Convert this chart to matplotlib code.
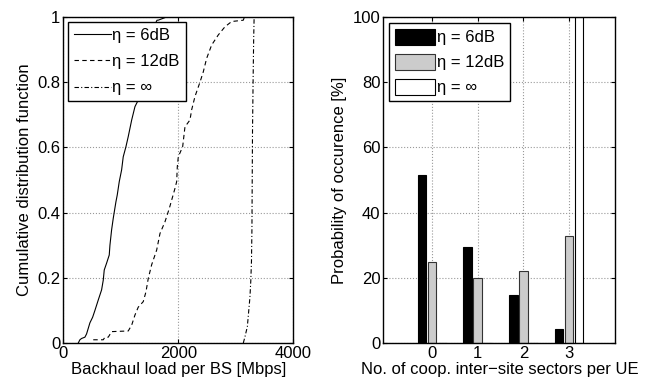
import numpy as np
import matplotlib
matplotlib.use('Agg')
import matplotlib.pyplot as plt

plt.rcParams['font.family'] = ['Liberation Sans', 'DejaVu Sans']
plt.rcParams['font.size'] = 12

# CDF curves (Mbps, probability)
load_6db = [261, 290, 319, 377, 406, 435, 464, 511, 551, 609, 667, 696, 713, 754,
            800, 812, 841, 870, 916, 939, 974, 1015, 1043, 1090, 1130, 1190, 1247,
            1304, 1350, 1450, 1550, 1630, 1650, 1800]
cdf_6db = [0.0, 0.01, 0.014, 0.018, 0.028, 0.045, 0.062, 0.079, 0.10, 0.132, 0.163,
           0.193, 0.224, 0.245, 0.27, 0.30, 0.347, 0.383, 0.433, 0.454, 0.495, 0.531,
           0.571, 0.602, 0.633, 0.684, 0.725, 0.745, 0.82, 0.90, 0.96, 0.99, 0.99, 1.0]

load_12db = [522, 696, 725, 783, 841, 1130, 1190, 1247, 1304, 1391, 1438, 1478, 1537,
             1624, 1682, 1769, 1844, 1902, 1942, 1972, 1983, 2000, 2076, 2116, 2203,
             2232, 2290, 2377, 2435, 2493, 2580, 2696, 2812, 2928, 3130, 3150]
cdf_12db = [0.01, 0.01, 0.018, 0.018, 0.035, 0.037, 0.055, 0.086, 0.11, 0.127, 0.157,
            0.198, 0.24, 0.285, 0.336, 0.372, 0.413, 0.449, 0.474, 0.495, 0.541, 0.571,
            0.602, 0.663, 0.684, 0.715, 0.756, 0.80, 0.832, 0.873, 0.914, 0.945, 0.97,
            0.986, 0.99, 1.0]

load_inf = [3130, 3160, 3200, 3220, 3245, 3260, 3272, 3280, 3285, 3290, 3300, 3310, 3318]
cdf_inf = [0.0, 0.02, 0.05, 0.09, 0.14, 0.19, 0.25, 0.35, 0.5, 0.65, 0.8, 0.93, 1.0]

# bar chart: probability [%] per number of cooperating inter-site sectors
sectors = [0, 1, 2, 3]
prob_6db = [51.4, 29.4, 14.7, 4.3]
prob_12db = [24.9, 20.0, 22.0, 32.8]
prob_inf = [0, 0, 0, 100]

labels = ['\u03b7 = 6dB', '\u03b7 = 12dB', '\u03b7 = \u221e']

fig = plt.figure(figsize=(6.69, 3.85), dpi=100)
ax1 = fig.add_axes([0.0945, 0.109, 0.344, 0.847])
ax2 = fig.add_axes([0.573, 0.109, 0.347, 0.847])

# left: CDF of backhaul load
ax1.plot(load_6db, cdf_6db, 'k-', lw=0.8, label=labels[0])
ax1.plot(load_12db, cdf_12db, 'k--', lw=0.8, dashes=(4, 3), label=labels[1])
ax1.plot(load_inf, cdf_inf, 'k-.', lw=0.8, dashes=(4, 2, 1, 2), label=labels[2])
ax1.set_xlim(0, 4000)
ax1.set_ylim(0, 1)
ax1.set_xticks([0, 2000, 4000])
ax1.set_yticks([0, 0.2, 0.4, 0.6, 0.8, 1])
ax1.set_yticklabels(['0', '0.2', '0.4', '0.6', '0.8', '1'])
ax1.set_xlabel('Backhaul load per BS [Mbps]', labelpad=1)
ax1.set_ylabel('Cumulative distribution function', labelpad=4)
leg1 = ax1.legend(loc='upper left', fancybox=False, edgecolor='k', framealpha=1,
                  handlelength=2.2, handletextpad=0.1, borderpad=0.35,
                  labelspacing=0.68, borderaxespad=0.3)
leg1.get_frame().set_linewidth(1.0)

# right: grouped bars
x = np.array(sectors)
w = 0.19
ax2.bar(x - 0.22, prob_6db, w, color='k', edgecolor='k', lw=0.8, label=labels[0])
ax2.bar(x, prob_12db, w, color='#cccccc', edgecolor='#333333', lw=0.8, label=labels[1])
ax2.bar(x + 0.22, prob_inf, w, color='white', edgecolor='k', lw=0.8, label=labels[2])
ax2.set_xlim(-1.07, 4.02)
ax2.set_ylim(0, 100)
ax2.set_xticks(sectors)
ax2.set_yticks([0, 20, 40, 60, 80, 100])
ax2.set_xlabel('No. of coop. inter\u2212site sectors per UE', labelpad=1)
ax2.set_ylabel('Probability of occurence [%]', labelpad=4)
leg2 = ax2.legend(loc='upper left', fancybox=False, edgecolor='k', framealpha=1,
                  handlelength=2.4, handleheight=1.1, handletextpad=0.1, borderpad=0.35,
                  labelspacing=0.5, borderaxespad=0.35)
leg2.get_frame().set_linewidth(1.0)

for ax in (ax1, ax2):
    ax.grid(True, ls=':', color='#999999', lw=0.8)
    ax.set_axisbelow(True)
    ax.tick_params(direction='in', top=True, right=True, length=3, pad=2)
    for s in ax.spines.values():
        s.set_linewidth(1.0)

fig.savefig('out.png', dpi=100)
